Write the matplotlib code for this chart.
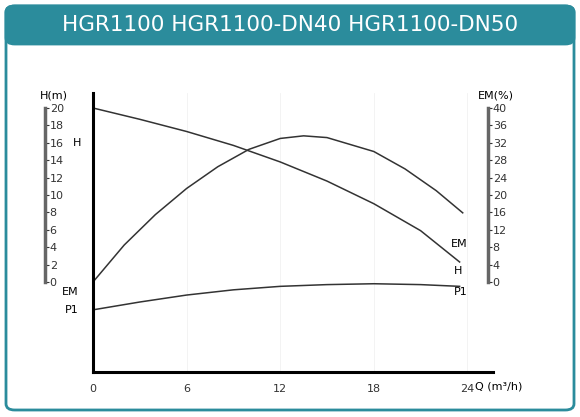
import numpy as np
import matplotlib.pyplot as plt
from matplotlib.patches import FancyBboxPatch

W, H_ = 580, 417
title = "HGR1100 HGR1100-DN40 HGR1100-DN50"

# curve data (Q in m3/h)
q_h = [0, 3, 6, 9, 12, 15, 18, 21, 23.5]
h_vals = [20, 18.7, 17.3, 15.7, 13.8, 11.6, 9.0, 5.9, 2.3]
q_em = [0, 2, 4, 6, 8, 10, 12, 13.5, 15, 18, 20, 22, 23.7]
em_vals = [0, 8.5, 15.5, 21.5, 26.5, 30.5, 33.0, 33.6, 33.2, 30.0, 26.0, 21.0, 15.9]
q_p1 = [0, 3, 6, 9, 12, 15, 18, 21, 23.5]
p1_vals = [-3.2, -2.3, -1.5, -0.9, -0.5, -0.3, -0.2, -0.3, -0.5]
x_ticks = [0, 6, 12, 18, 24]
h_ticks = list(range(0, 21, 2))
em_ticks = list(range(0, 41, 4))

def fx(px):
    return px / W

def fy(py):
    return 1 - py / H_

fig = plt.figure(figsize=(5.8, 4.17), dpi=100)
fig.patches.append(FancyBboxPatch((fx(6), fy(410)), fx(568), fy(6) - fy(410),
                                  boxstyle="round,pad=0,rounding_size=0.015", transform=fig.transFigure,
                                  fc="white", ec="#2b8c9c", lw=2, zorder=-2))
fig.patches.append(FancyBboxPatch((fx(6), fy(44)), fx(568), fy(6) - fy(44),
                                  boxstyle="round,pad=0,rounding_size=0.015", transform=fig.transFigure,
                                  fc="#2b8c9c", ec="#2b8c9c", lw=2, zorder=-1))
fig.text(0.5, fy(25), title, color="white", fontsize=15.5, ha="center", va="center")

# main axes: x 93..493 px, y 93..372 px
px_per_q = 15.6
px_per_h = 8.7
ax = fig.add_axes([fx(93), fy(372), fx(400), fy(93) - fy(372)])
ax.patch.set_alpha(0)
ax.set_xlim(0, 400 / px_per_q)
ax.set_ylim(-(372 - 282) / px_per_h, (282 - 93) / px_per_h)
for s in ["top", "right"]:
    ax.spines[s].set_visible(False)
for s in ["left", "bottom"]:
    ax.spines[s].set_linewidth(2.2)
ax.set_yticks([])
ax.set_xticks(x_ticks)
ax.set_xticklabels(["0", "6", "12", "18", "24"], fontsize=8, color="#333")
ax.tick_params(axis="x", length=0, pad=9)
ax.grid(True, axis="x", color="#eeeeee", lw=0.5)
ax.set_axisbelow(True)

ax.plot(q_h, h_vals, color="#333", lw=1.1)
em_scale = 20 / 40
ax.plot(q_em, [v * em_scale for v in em_vals], color="#333", lw=1.1)
ax.plot(q_p1, p1_vals, color="#333", lw=1.1)

ax.text(-1.0, 16, "H", fontsize=8, ha="center", va="center", clip_on=False)
ax.text(-0.9, -1.2, "EM", fontsize=8, ha="right", va="center", clip_on=False)
ax.text(-0.9, -3.2, "P1", fontsize=8, ha="right", va="center", clip_on=False)
ax.text(23.5, 4.4, "EM", fontsize=8, ha="center", va="center")
ax.text(23.4, 1.3, "H", fontsize=8, ha="center", va="center")
ax.text(23.6, -1.2, "P1", fontsize=8, ha="center", va="center")
ax.text(24.5, -10.3 - 1.7, "Q (m³/h)", fontsize=8, ha="left", va="center", clip_on=False)

# left scale
axl = fig.add_axes([fx(45), fy(282), 0.001, fy(108) - fy(282)])
axl.set_ylim(0, 20)
axl.set_yticks(h_ticks)
axl.set_xticks([])
for s in ["top", "right", "bottom"]:
    axl.spines[s].set_visible(False)
axl.spines["left"].set_linewidth(2.5)
axl.spines["left"].set_color("#666")
axl.yaxis.tick_right()
axl.tick_params(axis="y", length=2, labelsize=8, colors="#333", pad=1)
fig.text(fx(40), fy(96), "H(m)", fontsize=8, ha="left", va="center")

# right scale
axr = fig.add_axes([fx(488), fy(282), 0.001, fy(108) - fy(282)])
axr.set_ylim(0, 40)
axr.set_yticks(em_ticks)
axr.set_xticks([])
for s in ["top", "right", "bottom"]:
    axr.spines[s].set_visible(False)
axr.spines["left"].set_linewidth(2.5)
axr.spines["left"].set_color("#666")
axr.yaxis.tick_right()
axr.tick_params(axis="y", length=2, labelsize=8, colors="#333", pad=1)
fig.text(fx(478), fy(96), "EM(%)", fontsize=8, ha="left", va="center")

fig.savefig("out.png", dpi=100)
